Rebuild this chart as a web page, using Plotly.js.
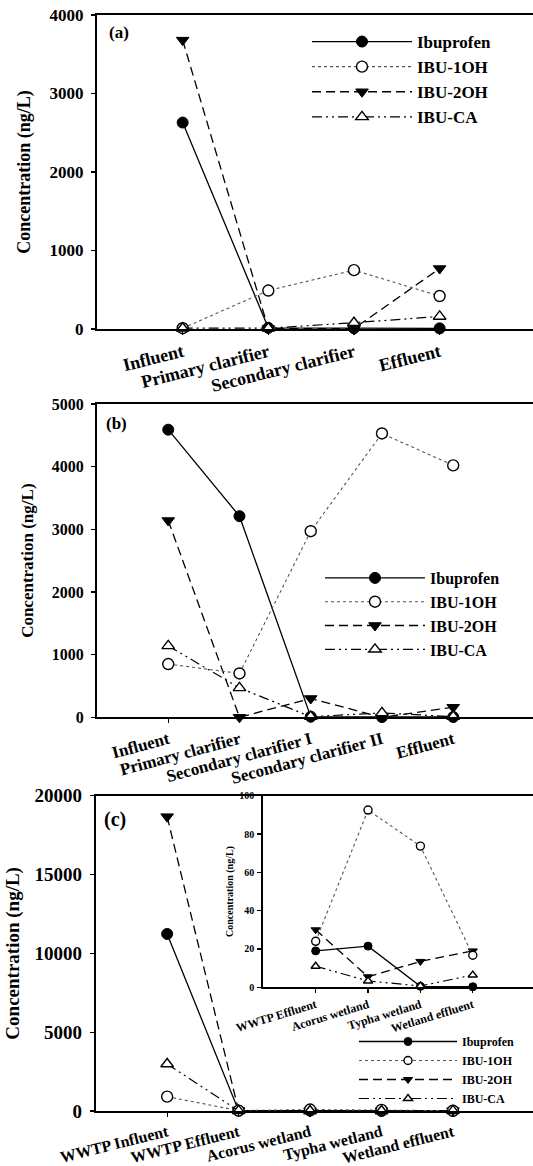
<!DOCTYPE html>
<html>
<head>
<meta charset="utf-8">
<script src="https://cdn.plot.ly/plotly-3.0.1.min.js"></script>
<style>
html,body{margin:0;padding:0;background:#fff;}
#chart{width:533px;height:1166px;}
</style>
</head>
<body>
<div id="chart"></div>
<script>
// ---- Data ----
const seriesNames = ['Ibuprofen', 'IBU-1OH', 'IBU-2OH', 'IBU-CA'];

// Panel (a)
const catsA = ['Influent', 'Primary clarifier', 'Secondary clarifier', 'Effluent'];
const ibuA = [2630, 15, 10, 8];
const oh1A = [10, 490, 750, 420];
const oh2A = [3680, 5, 5, 770];
const caA  = [10, 10, 80, 160];

// Panel (b)
const catsB = ['Influent', 'Primary clarifier', 'Secondary clarifier I', 'Secondary clarifier II', 'Effluent'];
const ibuB = [4590, 3210, 10, 5, 5];
const oh1B = [850, 700, 2970, 4530, 4020];
const oh2B = [3140, 0, 300, 0, 160];
const caB  = [1140, 470, 10, 70, 10];

// Panel (c) (inset shows the last four sites)
const catsC = ['WWTP Influent', 'WWTP Effluent', 'Acorus wetland', 'Typha wetland', 'Wetland effluent'];
const ibuC = [11230, 19, 21.5, 0.5, 0.3];
const oh1C = [910, 24, 92.5, 73.7, 16.7];
const oh2C = [18670, 30, 5.5, 13.5, 19];
const caC  = [2980, 11, 3.3, 0.7, 6.4];

// ---- Styles ----
const FONT = 'Liberation Serif';
const styles = [
  {line: {color: '#000', width: 1.3, dash: 'solid'}, marker: {symbol: 'circle', color: '#000', lc: '#000', lw: 1}},
  {line: {color: '#555', width: 1.1, dash: 'dot'}, marker: {symbol: 'circle', color: '#fff', lc: '#000', lw: 1.4}},
  {line: {color: '#000', width: 1.3, dash: '9px,5px'}, marker: {symbol: 'triangle-down', color: '#000', lc: '#000', lw: 1}},
  {line: {color: '#000', width: 1.2, dash: '10px,4px,2px,4px,2px,4px'}, marker: {symbol: 'triangle-up', color: '#fff', lc: '#000', lw: 1.4}}
];
const drawOrder = [0, 2, 1, 3];

function mk(x, ys, xa, ya, msize, legendName, showLeg) {
  return drawOrder.map(i => ({
    type: 'scatter', mode: 'lines+markers',
    x: x, y: ys[i], name: seriesNames[i],
    xaxis: xa, yaxis: ya,
    line: Object.assign({}, styles[i].line),
    marker: {size: msize, symbol: styles[i].marker.symbol, color: styles[i].marker.color,
             line: {color: styles[i].marker.lc, width: styles[i].marker.lw}},
    legend: legendName, showlegend: showLeg, legendrank: i + 1,
    cliponaxis: false
  }));
}

const traces = [].concat(
  mk(catsA, [ibuA, oh1A, oh2A, caA], 'x', 'y', 11, 'legend', true),
  mk(catsB, [ibuB, oh1B, oh2B, caB], 'x2', 'y2', 11, 'legend2', true),
  mk(catsC, [ibuC, oh1C, oh2C, caC], 'x3', 'y3', 11, 'legend3', false),
  mk(catsC.slice(1), [ibuC.slice(1), oh1C.slice(1), oh2C.slice(1), caC.slice(1)], 'x4', 'y4', 8, 'legend3', true)
);

const H = 1166, W = 533;
function px2y(p) { return (H - p) / H; }
function px2x(p) { return p / W; }

function xAxis(domain, range, anchor, fsize, angle) {
  return {
    domain: domain, range: range, anchor: anchor, type: 'category',
    showline: true, linecolor: '#000', linewidth: 2, mirror: true,
    ticks: 'outside', ticklen: 4, tickwidth: 1.2, tickcolor: '#000',
    tickangle: angle, showgrid: false, zeroline: false,
    tickfont: {family: FONT, size: fsize, color: '#000', weight: 'bold'},
    automargin: false
  };
}
function yAxis(domain, range, dtick, anchor, fsize, tsize, standoff, lblOff) {
  return {
    domain: domain, range: range, dtick: dtick, tick0: 0, anchor: anchor,
    tickformat: 'd',
    showline: true, linecolor: '#000', linewidth: 2,
    ticks: 'outside', ticklen: 4, tickwidth: 1.2, tickcolor: '#000',
    ticklabelstandoff: lblOff,
    showgrid: false, zeroline: false,
    tickfont: {family: FONT, size: fsize, color: '#000', weight: 'bold'},
    title: {text: 'Concentration (ng/L)', font: {family: FONT, size: tsize, color: '#000', weight: 'bold'}, standoff: standoff},
    automargin: false
  };
}

function leg(xpx, ypx, fsize, iw) {
  return {
    x: px2x(xpx), y: px2y(ypx), xanchor: 'left', yanchor: 'top',
    bgcolor: 'rgba(0,0,0,0)', borderwidth: 0,
    font: {family: FONT, size: fsize, color: '#000', weight: 'bold'},
    itemwidth: iw, tracegroupgap: 0, itemclick: false, traceorder: 'normal'
  };
}

const layout = {
  width: W, height: H,
  margin: {l: 0, r: 0, t: 0, b: 0},
  paper_bgcolor: '#fff', plot_bgcolor: 'rgba(0,0,0,0)',
  showlegend: true,
  xaxis: xAxis([px2x(97), 1], [-1, 4.09], 'y', 18, -14),
  yaxis: yAxis([px2y(329), px2y(15)], [0, 4000], 1000, 'x', 17, 18, 14, 4),
  xaxis2: xAxis([px2x(97), 1], [-1, 5.12], 'y2', 17, -15),
  yaxis2: yAxis([px2y(717.3), px2y(404)], [0, 5000], 1000, 'x2', 16, 17, 14, 4),
  xaxis3: xAxis([px2x(95.7), 1], [-1, 5.12], 'y3', 16, -14),
  yaxis3: yAxis([px2y(1111), px2y(795.7)], [0, 20000], 5000, 'x3', 19, 19, 10, 4),
  xaxis4: xAxis([px2x(263.3), 1], [-1, 4.15], 'y4', 12, -17),
  yaxis4: yAxis([px2y(987.3), px2y(795.7)], [0, 100], 20, 'x4', 10, 10, 4, 1),
  legend: leg(307, 24, 17, 100),
  legend2: leg(320, 561, 16, 100),
  legend3: leg(354, 1027, 12, 98),
  annotations: [
    {text: '(a)', xref: 'paper', yref: 'paper', x: px2x(107), y: px2y(33), xanchor: 'left', yanchor: 'middle', showarrow: false, font: {family: FONT, size: 17, color: '#000', weight: 'bold'}},
    {text: '(b)', xref: 'paper', yref: 'paper', x: px2x(104), y: px2y(423), xanchor: 'left', yanchor: 'middle', showarrow: false, font: {family: FONT, size: 17, color: '#000', weight: 'bold'}},
    {text: '(c)', xref: 'paper', yref: 'paper', x: px2x(102), y: px2y(819), xanchor: 'left', yanchor: 'middle', showarrow: false, font: {family: FONT, size: 20, color: '#000', weight: 'bold'}}
  ]
};

Plotly.newPlot('chart', traces, layout, {displayModeBar: false, staticPlot: true});
</script>
</body>
</html>
